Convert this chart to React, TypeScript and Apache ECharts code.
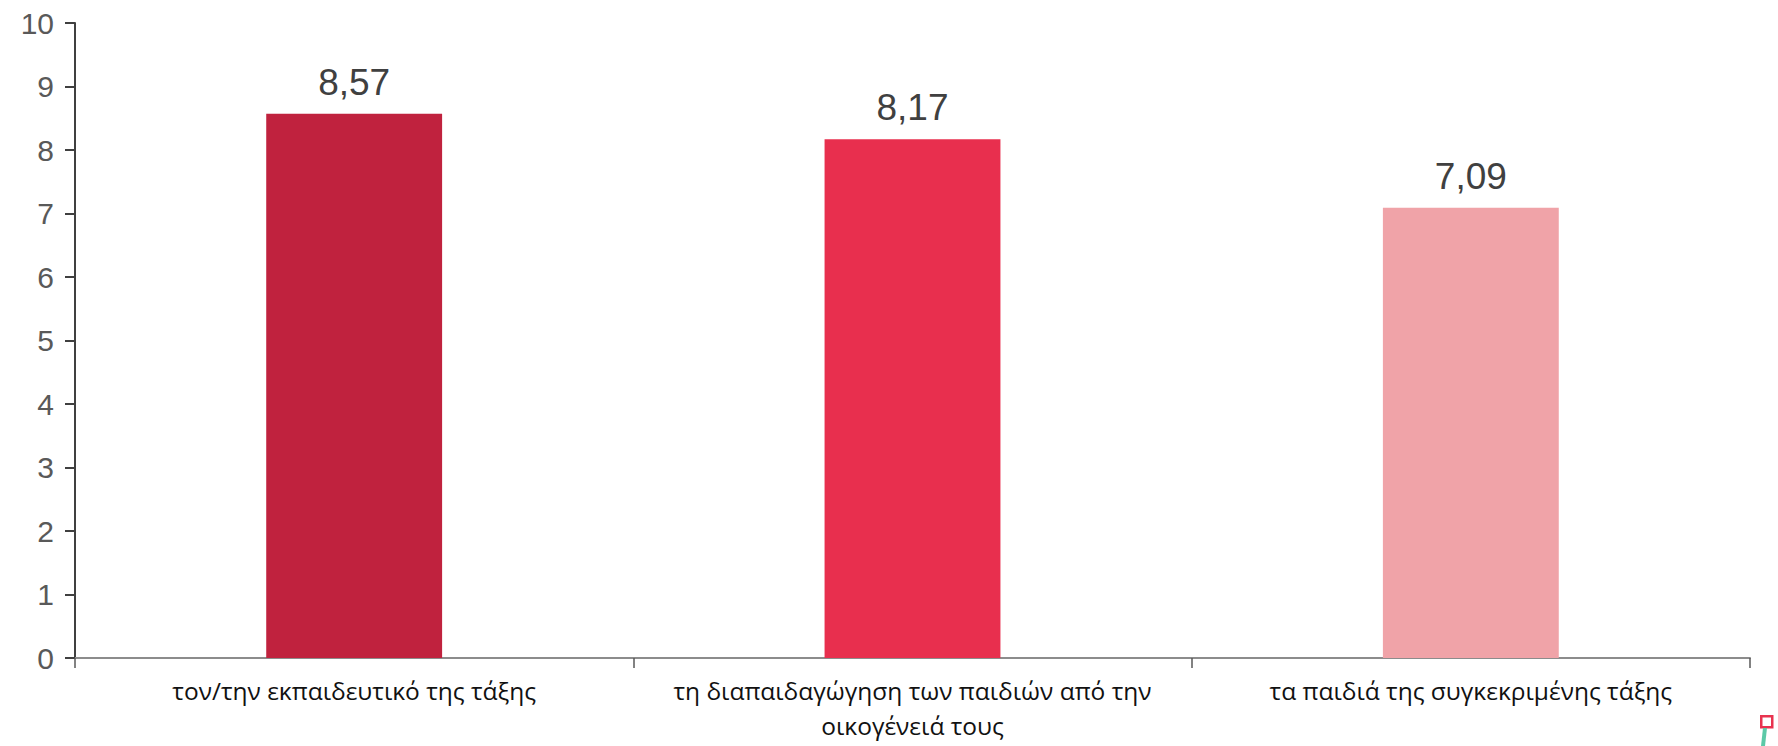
import React, { useEffect, useRef } from "react";
import * as echarts from "echarts";

const categories = [
  "τον/την εκπαιδευτικό της τάξης",
  "τη διαπαιδαγώγηση των παιδιών από την\nοικογένειά τους",
  "τα παιδιά της συγκεκριμένης τάξης",
];
const values = [8.57, 8.17, 7.09];
const barColors = ["#C0223E", "#E82F4E", "#F0A3A8"];
const yTicks = [0, 10, 1];

echarts.graphic.registerShape(
  "logoStem",
  echarts.graphic.extendPath("M 3 0 L 7 0 L 5 18 L 1 18 Z", {})
);

export default function App() {
  const ref = useRef<HTMLDivElement>(null);
  useEffect(() => {
    document.body.style.margin = "0";
    const chart = echarts.init(ref.current!, null, { renderer: "svg" });
    chart.setOption({
      animation: false,
      grid: { left: 75, right: 28, top: 23, bottom: 88, containLabel: false },
      xAxis: {
        type: "category",
        data: categories,
        boundaryGap: true,
        axisLine: { lineStyle: { color: "#8C8C8C", width: 2 } },
        axisTick: { show: true, length: 10, lineStyle: { color: "#595959", width: 1.5 } },
        axisLabel: {
          interval: 0,
          margin: 15,
          fontFamily: "Open Sans",
          fontSize: 24.5,
          lineHeight: 35,
          color: "#111111",
        },
      },
      yAxis: {
        type: "value",
        min: yTicks[0],
        max: yTicks[1],
        interval: yTicks[2],
        splitLine: { show: false },
        axisLine: { show: true, lineStyle: { color: "#404040", width: 2 } },
        axisTick: { show: true, length: 10, lineStyle: { color: "#404040", width: 2 } },
        axisLabel: {
          margin: 21,
          fontFamily: "Liberation Sans",
          fontSize: 30,
          color: "#595959",
        },
      },
      series: [
        {
          type: "bar",
          barWidth: "31.5%",
          data: values.map((v, i) => ({ value: v, itemStyle: { color: barColors[i] } })),
          label: {
            show: true,
            position: "top",
            distance: 13,
            fontFamily: "Liberation Sans",
            fontSize: 37,
            color: "#404040",
            formatter: (p: any) => p.value.toFixed(2).replace(".", ","),
          },
        },
      ],
      graphic: [
        {
          type: "rect",
          left: 1760,
          top: 715,
          shape: { width: 11, height: 11 },
          style: { fill: "#ffffff", stroke: "#E8334F", lineWidth: 2.5 },
        },
        {
          type: "logoStem",
          x: 1760,
          y: 728,
          style: { fill: "#5CC9A7" },
        },
      ],
    });
    return () => chart.dispose();
  }, []);
  return (
    <div
      ref={ref}
      style={{ position: "absolute", left: 0, top: 0, width: 1778, height: 746 }}
    />
  );
}
